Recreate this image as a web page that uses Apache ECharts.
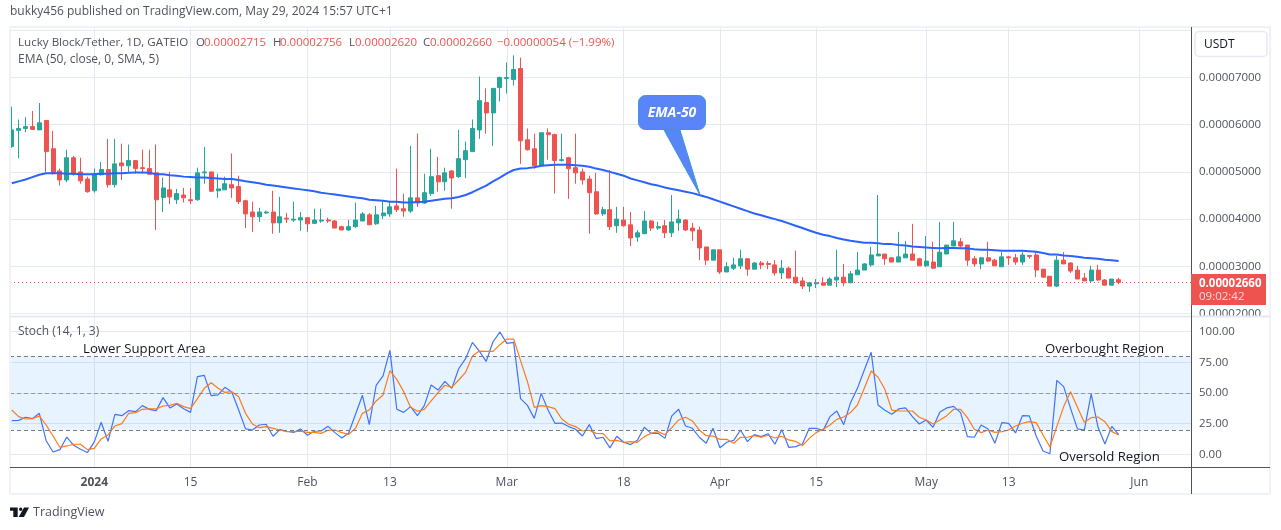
<!DOCTYPE html>
<html>
<head>
<meta charset="utf-8">
<title>Lucky Block/Tether</title>
<style>
html, body { margin: 0; padding: 0; background: #fff; }
#chart { width: 1281px; height: 530px; }
</style>
<script src="https://cdn.jsdelivr.net/npm/echarts@6/dist/echarts.min.js"></script>
</head>
<body>
<div id="chart"></div>
<script>
// prices are in units of 0.00001 USDT, first candle is 12 days before 1 Jan 2024
var openPrices = [
    5.54,5.88,5.92,5.96,5.89,6.09,5.49,5.02,4.83,5.30,
    5.00,4.85,4.60,4.94,5.05,4.73,5.19,5.13,5.24,5.09,
    5.07,4.98,4.46,4.62,4.41,4.51,4.41,4.41,4.98,5.00,
    4.60,4.62,4.73,4.69,4.39,4.15,4.05,4.13,4.15,3.92,
    4.02,3.98,3.98,4.03,3.91,3.96,3.98,3.96,3.84,3.77,
    3.84,3.96,4.09,3.90,4.07,4.11,4.28,4.22,4.17,4.45,
    4.34,4.54,4.92,4.79,5.02,4.90,5.26,5.43,5.89,6.47,
    6.25,6.79,6.98,6.96,7.19,5.68,5.49,5.13,5.83,5.79,
    5.24,5.30,5.09,5.00,4.85,4.58,4.11,4.20,3.86,3.98,
    3.88,3.62,3.69,3.96,3.81,3.86,3.71,3.92,3.98,3.81,
    3.77,3.41,3.13,3.35,2.88,2.96,3.01,3.16,2.94,3.07,
    3.06,3.03,2.86,2.96,2.77,2.69,2.58,2.63,2.65,2.60,
    2.71,2.77,2.65,2.82,2.92,3.03,3.22,3.26,3.18,3.09,
    3.18,3.26,3.16,3.01,3.09,2.99,3.26,3.43,3.52,3.45,
    3.16,3.05,3.18,3.13,2.99,3.20,3.18,3.09,3.23,3.24,
    2.94,2.79,2.58,3.13,3.07,2.92,2.75,2.69,2.92,2.71,
    2.60,2.715
];
var closePrices = [
    5.89,5.92,5.96,5.90,6.04,5.43,4.98,4.83,5.30,4.95,
    4.81,4.58,4.96,5.05,4.73,5.17,5.13,5.24,5.07,5.07,
    4.95,4.41,4.66,4.47,4.54,4.45,4.39,4.98,5.00,4.59,
    4.64,4.75,4.66,4.37,4.11,4.05,4.15,4.15,3.92,4.05,
    4.00,4.00,4.03,3.90,3.98,3.98,3.96,3.81,3.77,3.84,
    3.98,4.11,3.88,4.09,4.13,4.26,4.20,4.17,4.45,4.34,
    4.56,4.90,4.79,4.98,4.87,5.28,5.45,5.92,6.51,6.25,
    6.77,7.00,7.00,7.17,5.66,5.47,5.13,5.83,5.79,5.24,
    5.26,5.07,4.98,4.83,4.56,4.11,4.20,3.84,4.00,3.86,
    3.60,3.71,3.96,3.81,3.84,3.71,3.94,4.00,3.77,3.75,
    3.39,3.13,3.35,2.88,2.99,3.03,3.16,2.94,3.07,3.03,
    3.04,2.86,2.96,2.75,2.65,2.58,2.65,2.65,2.60,2.73,
    2.77,2.65,2.84,2.92,3.05,3.24,3.26,3.16,3.09,3.20,
    3.26,3.13,3.01,3.11,2.96,3.30,3.45,3.54,3.43,3.13,
    3.05,3.18,3.11,3.01,3.20,3.18,3.09,3.24,3.21,2.92,
    2.77,2.58,3.13,3.05,2.90,2.73,2.69,2.92,2.71,2.60,
    2.73,2.66
];
var highPrices = [
    6.38,6.11,6.16,6.29,6.46,6.10,5.87,5.07,5.47,5.34,
    5.30,4.90,5.07,5.21,5.70,5.70,5.60,5.58,5.24,5.47,
    5.47,5.58,4.88,5.00,4.64,4.66,4.66,5.09,5.53,5.00,
    4.96,4.90,5.39,4.92,4.41,4.37,4.24,4.18,4.60,4.47,
    4.13,4.37,4.15,4.03,4.22,4.22,4.03,3.98,3.86,3.98,
    4.35,4.15,4.13,4.28,4.37,4.37,5.07,4.54,5.55,5.81,
    4.96,5.49,5.32,5.09,5.04,5.89,5.64,6.11,7.02,6.77,
    6.77,7.02,7.32,7.47,7.42,5.92,5.81,5.83,5.92,5.81,
    5.81,5.32,5.81,5.07,4.92,4.98,4.26,5.04,4.26,4.26,
    4.15,3.77,4.17,3.98,3.94,3.98,4.51,4.20,4.00,3.92,
    3.84,3.41,3.35,3.35,3.09,3.18,3.35,3.16,3.09,3.11,
    3.11,3.13,3.13,2.99,3.33,2.77,2.67,2.73,2.77,2.77,
    3.35,3.05,2.90,3.30,3.07,3.41,4.51,3.26,3.18,3.73,
    3.54,3.90,3.18,3.64,3.52,3.94,3.45,3.94,3.60,3.45,
    3.22,3.20,3.52,3.16,3.30,3.22,3.26,3.30,3.24,3.30,
    2.94,2.79,3.22,3.30,3.09,3.01,2.86,3.01,3.03,2.73,
    2.73,2.756
];
var lowPrices = [
    5.51,5.29,5.84,5.90,5.89,5.00,4.94,4.71,4.78,4.92,
    4.75,4.56,4.56,4.92,4.67,4.67,4.83,4.98,4.96,4.96,
    4.94,3.77,4.15,4.32,4.32,4.35,4.32,4.39,4.75,4.58,
    4.45,4.62,4.45,4.32,3.81,3.73,3.94,4.11,3.69,3.71,
    3.92,3.94,3.75,3.73,3.90,3.92,3.92,3.81,3.77,3.75,
    3.81,3.96,3.88,3.88,4.00,4.05,4.15,4.05,4.13,4.26,
    4.32,4.49,4.58,4.60,4.22,4.87,4.87,5.43,5.70,5.81,
    5.55,6.49,6.66,6.83,5.17,5.45,5.07,5.13,5.26,4.54,
    5.22,4.43,4.75,4.73,3.69,4.09,4.07,3.77,3.71,3.84,
    3.43,3.52,3.69,3.75,3.77,3.60,3.62,3.75,3.75,3.54,
    3.13,3.03,3.13,2.84,2.88,2.92,2.94,2.80,2.94,2.94,
    2.94,2.80,2.73,2.75,2.63,2.52,2.46,2.54,2.60,2.60,
    2.56,2.58,2.65,2.82,2.92,2.99,3.22,3.03,3.09,3.09,
    3.18,3.13,3.01,2.99,2.94,2.99,3.26,3.43,3.39,3.01,
    2.99,2.94,3.09,3.01,2.99,3.03,3.03,3.03,3.16,2.77,
    2.77,2.58,2.56,3.05,2.86,2.73,2.69,2.67,2.69,2.60,
    2.60,2.62
];
var emaValues = [
    4.76,4.80,4.84,4.89,4.94,4.97,4.97,4.97,4.96,4.96,
    4.95,4.95,4.95,4.96,4.96,4.97,4.97,4.98,4.99,4.99,
    4.98,4.95,4.95,4.93,4.92,4.90,4.89,4.88,4.88,4.87,
    4.86,4.85,4.85,4.83,4.80,4.78,4.76,4.73,4.71,4.69,
    4.67,4.65,4.63,4.61,4.59,4.56,4.54,4.52,4.50,4.48,
    4.46,4.44,4.41,4.40,4.39,4.37,4.37,4.35,4.35,4.36,
    4.37,4.39,4.41,4.43,4.44,4.47,4.51,4.57,4.64,4.71,
    4.80,4.88,4.97,5.04,5.07,5.08,5.10,5.13,5.14,5.15,
    5.15,5.15,5.14,5.13,5.11,5.07,5.04,5.00,4.96,4.92,
    4.86,4.82,4.78,4.74,4.71,4.67,4.64,4.61,4.58,4.55,
    4.51,4.47,4.42,4.37,4.32,4.27,4.22,4.17,4.12,4.08,
    4.04,4.00,3.96,3.91,3.86,3.81,3.76,3.71,3.67,3.64,
    3.60,3.57,3.54,3.52,3.50,3.50,3.49,3.47,3.47,3.45,
    3.44,3.42,3.41,3.40,3.39,3.38,3.39,3.39,3.38,3.38,
    3.36,3.35,3.35,3.34,3.33,3.33,3.33,3.33,3.32,3.31,
    3.28,3.25,3.25,3.23,3.22,3.20,3.18,3.17,3.16,3.14,
    3.13,3.11
];
var stochK = [
    27.4,27.7,30.2,29.1,33.4,11.1,1.9,3.8,14.1,7.3,
    4.1,1.4,10.1,26.1,10.6,32.6,31.5,35.6,34.8,39.7,
    36.7,35.6,46.2,37.8,41.0,37.2,34.2,63.3,64.4,47.8,
    48.4,54.6,50.8,36.1,20.7,19.8,23.9,24.5,14.7,20.1,
    18.8,17.9,20.7,15.5,18.8,19.0,22.8,17.7,13.3,17.4,
    32.6,48.1,24.2,56.3,63.9,84.8,36.7,34.2,38.9,31.5,
    39.7,56.5,52.4,59.5,53.8,69.8,78.0,91.3,84.2,75.8,
    91.8,99.7,90.5,91.3,45.4,39.9,29.3,49.7,36.1,25.3,
    25.5,22.6,20.4,14.9,24.2,12.8,13.9,5.2,14.7,9.8,
    7.9,11.4,22.0,17.1,17.1,13.0,31.3,36.7,23.1,21.2,
    13.9,9.0,21.2,5.4,9.8,11.4,19.8,10.3,16.0,14.4,
    16.8,8.2,20.1,5.7,6.3,8.4,21.2,21.2,19.3,30.7,
    35.3,24.2,42.1,53.8,68.8,83.2,40.2,35.9,32.6,37.0,
    37.8,30.7,24.7,28.0,22.0,34.5,37.8,39.1,34.0,14.4,
    13.9,23.9,20.7,9.0,25.8,25.3,17.4,31.5,31.3,14.9,
    2.7,0.5,60.3,55.2,37.5,20.7,19.8,49.2,22.0,8.4,
    22.8,16.0
];
var stochD = [
    36.1,30.7,28.8,29.1,31.3,23.9,14.9,5.7,6.8,8.2,
    8.2,3.8,4.9,12.5,15.8,23.1,25.0,33.4,34.0,36.7,
    37.0,37.0,39.4,39.9,41.6,38.9,37.2,45.4,53.8,58.4,
    53.8,50.5,51.1,47.0,33.4,24.7,21.7,22.6,21.2,19.8,
    18.5,18.5,18.8,17.9,17.9,17.1,19.6,19.8,17.7,16.3,
    21.2,33.4,36.1,43.5,48.4,68.2,61.1,51.1,38.3,35.1,
    36.7,43.5,50.3,56.3,54.6,60.6,66.8,80.2,84.2,84.0,
    84.0,89.4,94.0,94.0,76.4,59.2,38.3,39.7,38.9,37.2,
    28.8,24.5,22.6,19.0,19.6,17.1,16.8,10.9,11.4,9.8,
    10.3,9.8,14.4,17.1,18.5,16.0,21.7,28.0,30.2,27.2,
    19.8,15.2,14.9,12.2,12.2,9.0,13.9,13.9,15.2,13.9,
    15.5,13.3,14.7,11.7,10.6,7.1,13.0,17.7,20.4,23.9,
    28.5,30.4,34.0,40.2,53.8,67.9,62.8,53.0,36.1,35.3,
    35.3,35.3,30.2,28.0,24.7,28.0,31.5,36.7,36.7,29.9,
    20.4,17.7,19.8,17.9,18.5,19.8,23.1,25.3,26.6,25.8,
    15.8,6.0,22.6,38.9,51.1,38.3,26.1,29.9,30.4,26.6,
    18.5,15.8
];
var firstDay = -12;
var timeTickDays = [0, 14, 31, 43, 60, 77, 91, 105, 121, 133, 152];
var timeTickLabels = ["2024", "15", "Feb", "13", "Mar", "18", "Apr", "15", "May", "13", "Jun"];
var priceGridLines = [2, 3, 4, 5, 6, 7, 8];
var priceTickLabels = [2, 3, 4, 5, 6, 7];
var stochTicks = [0, 25, 50, 75, 100];

var lastClose = closePrices[closePrices.length - 1];

var FONT = "Open Sans";
var TEXT = "#50535e";
var DARK = "#131722";
var RED = "#ef5350";
var GREEN = "#26a69a";
var GRID = "#e3eaf1";
var FRAME = "#eff2f7";

var candleData = [], emaData = [], kData = [], dData = [];
for (var i = 0; i < openPrices.length; i++) {
    var day = firstDay + i;
    candleData.push([day, openPrices[i], closePrices[i], lowPrices[i], highPrices[i]]);
    emaData.push([day, emaValues[i]]);
    kData.push([day, stochK[i]]);
    dData.push([day, stochD[i]]);
}

function txt(x, y, text, color, size, extra) {
    var style = { x: x, y: y + 1, text: text, fill: color, font: (size || 12) + "px '" + FONT + "'", textVerticalAlign: "middle" };
    for (var key in (extra || {})) style[key] = extra[key];
    return { type: "text", z: 50, style: style };
}

function hline(x1, x2, y, color, width) {
    return { type: "line", z: 40, silent: true, shape: { x1: x1, y1: y, x2: x2, y2: y }, style: { stroke: color, lineWidth: width } };
}

var chart = echarts.init(document.getElementById("chart"), null, { renderer: "canvas" });
var option = {
    animation: false,
    backgroundColor: "#fff",
    textStyle: { fontFamily: FONT },
    grid: [
        { left: 10, top: 28, width: 1181, height: 288 },
        { left: 10, top: 316, width: 1181, height: 151 }
    ],
    xAxis: [0, 1].map(function(n) {
        return {
            type: "value",
            gridIndex: n,
            min: -12.26,
            max: 159.52,
            axisLine: { show: false },
            axisTick: { show: false, customValues: timeTickDays },
            splitLine: { show: true, lineStyle: { color: GRID, width: 1 } },
            axisLabel: {
                show: n == 1,
                customValues: timeTickDays,
                color: TEXT,
                fontSize: 12,
                fontFamily: FONT,
                margin: 10,
                formatter: function(value) {
                    var text = timeTickLabels[timeTickDays.indexOf(value)];
                    return text == "2024" ? "{year|2024}" : text;
                },
                rich: { year: { fontWeight: "bold", fontSize: 12, color: TEXT, fontFamily: FONT } }
            }
        };
    }),
    yAxis: [
        {
            type: "value",
            gridIndex: 0,
            position: "right",
            min: 1.947,
            max: 8.049,
            axisLine: { show: false },
            axisTick: { show: false, customValues: priceGridLines },
            splitLine: { show: true, lineStyle: { color: GRID, width: 1 } },
            axisLabel: {
                customValues: priceTickLabels,
                color: TEXT,
                fontSize: 11.5,
                fontFamily: FONT,
                margin: 8,
                padding: [2, 0, 0, 0],
                formatter: function(value) { return (value / 100000).toFixed(8); }
            }
        },
        {
            type: "value",
            gridIndex: 1,
            position: "right",
            min: -10.36,
            max: 112.8,
            axisLine: { show: false },
            axisTick: { show: false, customValues: stochTicks },
            splitLine: { show: true, lineStyle: { color: GRID, width: 1 } },
            axisLabel: {
                customValues: stochTicks,
                color: TEXT,
                fontSize: 11.5,
                fontFamily: FONT,
                margin: 8,
                padding: [2, 0, 0, 0],
                formatter: function(value) { return value.toFixed(2); }
            }
        }
    ],
    series: [
        {
            name: "Lucky Block/Tether",
            type: "candlestick",
            xAxisIndex: 0,
            yAxisIndex: 0,
            barWidth: 4.5,
            encode: { x: 0, y: [1, 2, 3, 4] },
            data: candleData,
            itemStyle: { color: GREEN, color0: RED, borderColor: GREEN, borderColor0: RED, borderWidth: 1 },
            markLine: {
                silent: true,
                symbol: "none",
                label: { show: false },
                lineStyle: { color: RED, type: [1, 3], width: 1 },
                data: [{ yAxis: lastClose }]
            }
        },
        {
            name: "EMA",
            type: "line",
            xAxisIndex: 0,
            yAxisIndex: 0,
            data: emaData,
            symbol: "none",
            lineStyle: { color: "#2962ff", width: 2 }
        },
        {
            name: "%K",
            type: "line",
            xAxisIndex: 1,
            yAxisIndex: 1,
            data: kData,
            symbol: "none",
            lineStyle: { color: "#3f73ff", width: 1.2 },
            markArea: {
                silent: true,
                itemStyle: { color: "rgba(33,150,243,0.11)" },
                data: [[{ yAxis: 80 }, { yAxis: 20 }]]
            },
            markLine: {
                silent: true,
                symbol: "none",
                label: { show: false },
                lineStyle: { color: "#787b86", type: [4, 3], width: 1 },
                data: [
                    { yAxis: 80 },
                    { yAxis: 50, lineStyle: { color: "rgba(120,123,134,0.7)", type: [4, 3], width: 1 } },
                    { yAxis: 20 }
                ]
            }
        },
        {
            name: "%D",
            type: "line",
            xAxisIndex: 1,
            yAxisIndex: 1,
            data: dData,
            symbol: "none",
            lineStyle: { color: "#ff7a1a", width: 1.2 }
        }
    ],
    graphic: [
        // chart frame and pane separators
        { type: "rect", z: 30, silent: true, shape: { x: 10, y: 27, width: 1260, height: 467 }, style: { fill: "none", stroke: FRAME, lineWidth: 2 } },
        hline(10, 1270, 316.5, "#e6e9ef", 2),
        hline(10, 1270, 467.5, "#50535e", 1),
        { type: "line", z: 40, silent: true, shape: { x1: 1191.5, y1: 27, x2: 1191.5, y2: 494 }, style: { stroke: "#50535e", lineWidth: 1 } },

        // header
        txt(10, 11, "bukky456 published on TradingView.com, May 29, 2024 15:57 UTC+1", TEXT, 12),
        txt(18, 42, "Lucky Block/Tether, 1D, GATEIO", TEXT, 11.6),
        txt(196, 42, "O", TEXT, 11.5),
        txt(204, 42, "0.00002715", RED, 11.5),
        txt(273, 42, "H", TEXT, 11.5),
        txt(280, 42, "0.00002756", RED, 11.5),
        txt(349, 42, "L", TEXT, 11.5),
        txt(355, 42, "0.00002620", RED, 11.5),
        txt(423, 42, "C", TEXT, 11.5),
        txt(430, 42, "0.00002660", RED, 11.5),
        txt(497, 42, "\u22120.00000054 (\u22121.99%)", RED, 11.5),
        txt(18, 59, "EMA (50, close, 0, SMA, 5)", TEXT, 12),
        txt(18, 331, "Stoch (14, 1, 3)", TEXT, 12),

        // hand drawn notes
        txt(83, 348, "Lower Support Area", DARK, 13.2),
        txt(1045, 348, "Overbought Region", DARK, 13.2),
        txt(1059, 456, "Oversold Region", DARK, 13.2),
        { type: "polygon", z: 45, shape: { points: [[664, 130], [680, 130], [700, 195]] }, style: { fill: "#5a85f8", stroke: "#3b97d6", lineWidth: 1 } },
        { type: "rect", z: 46, shape: { x: 638.5, y: 95.5, width: 67, height: 34, r: 7 }, style: { fill: "#5a85f8", stroke: "#3b97d6", lineWidth: 1 } },
        hline(665, 679.5, 129.7, "#5a85f8", 1.6),
        txt(672, 112, "EMA-50", "#fff", 14, { font: "italic bold 14px '" + FONT + "'", textAlign: "center" }),

        // price scale extras
        { type: "rect", z: 45, shape: { x: 1195, y: 31.5, width: 72, height: 25, r: 4 }, style: { fill: "#fff", stroke: "#e6e9ef", lineWidth: 1.5 } },
        txt(1204, 44, "USDT", DARK, 12),
        { type: "rect", z: 45, shape: { x: 1191, y: 274, width: 75, height: 31 }, style: { fill: RED } },
        txt(1199, 283, (lastClose / 100000).toFixed(8), "#fff", 11.5, { font: "bold 11.5px '" + FONT + "'" }),
        txt(1199, 296, "09:02:42", "#ffd9d8", 11.5),

        // TradingView logo
        { type: "polygon", z: 45, shape: { points: [[10, 507.5], [17.7, 507.5], [17.7, 517], [13.3, 517], [13.3, 510.8], [10, 510.8]] }, style: { fill: DARK } },
        { type: "circle", z: 45, shape: { cx: 20.7, cy: 509.2, r: 1.7 }, style: { fill: DARK } },
        { type: "polygon", z: 45, shape: { points: [[24, 507.5], [29, 507.5], [24, 517], [18.7, 517]] }, style: { fill: DARK } },
        txt(33, 511.5, "TradingView", TEXT, 12.5)
    ]
};
chart.setOption(option);
</script>
</body>
</html>
